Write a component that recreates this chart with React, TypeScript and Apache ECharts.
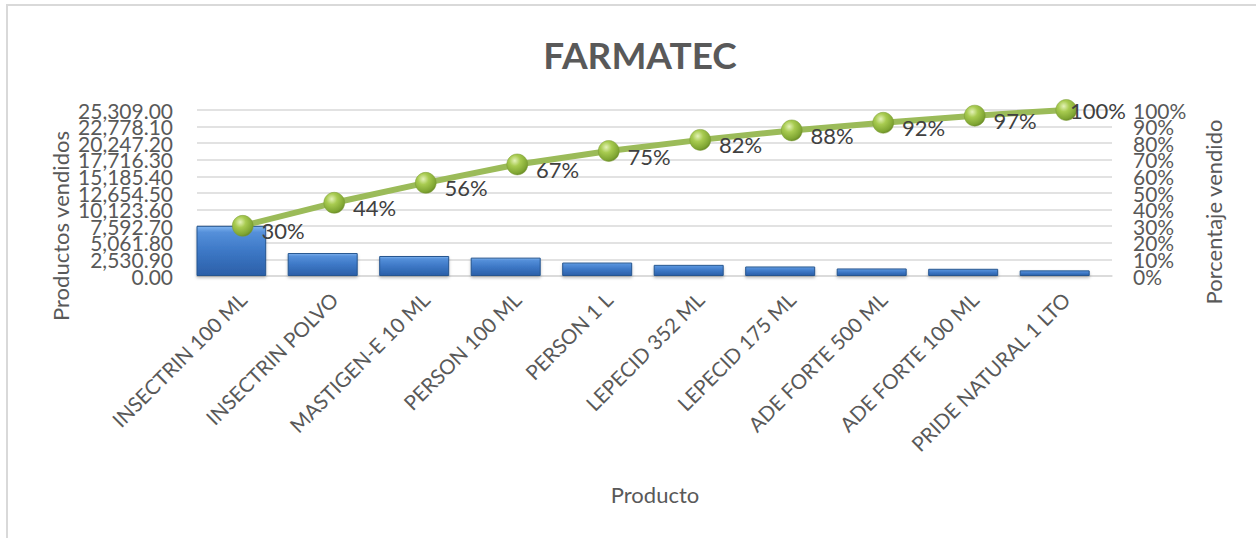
import React, { useEffect, useRef } from "react";
import * as echarts from "echarts";

const categories = [
  "INSECTRIN 100 ML",
  "INSECTRIN POLVO",
  "MASTIGEN-E 10 ML",
  "PERSON 100 ML",
  "PERSON 1 L",
  "LEPECID 352 ML",
  "LEPECID 175 ML",
  "ADE FORTE 500 ML",
  "ADE FORTE 100 ML",
  "PRIDE NATURAL 1 LTO",
];
const sold = [7650, 3500, 3050, 2800, 2050, 1700, 1450, 1150, 1100, 859];
const cumulativePct = [30.2, 44.1, 56.1, 67.2, 75.3, 82.0, 87.7, 92.3, 96.6, 100];
const leftMax = 25309;
const leftInterval = 2530.9;
const rightMax = 100;
const rightInterval = 10;

const FONT = "Lato, 'Noto Sans', sans-serif";
const GREY = "#595959";

const fmtLeft = (parity: number) => (v: number) =>
  Math.round(v / leftInterval) % 2 === parity
    ? v.toLocaleString("en-US", { minimumFractionDigits: 2, maximumFractionDigits: 2 })
    : "";
const fmtRight = (parity: number) => (v: number) =>
  Math.round(v / rightInterval) % 2 === parity ? Math.round(v) + "%" : "";

function valueAxis(position: "left" | "right", max: number, interval: number, formatter: any, grid: boolean) {
  return {
    type: "value",
    position,
    min: 0,
    max,
    interval,
    axisLine: { show: false },
    axisTick: { show: false },
    splitLine: grid ? { show: true, lineStyle: { color: "#D9D9D9", width: 1.5 } } : { show: false },
    axisLabel: {
      margin: position === "left" ? 24 : 21,
      showMinLabel: true,
      showMaxLabel: true,
      hideOverlap: false,
      fontFamily: FONT,
      fontSize: 21,
      color: GREY,
      formatter,
    },
  };
}

export default function App() {
  const ref = useRef<HTMLDivElement>(null);
  useEffect(() => {
    if (!ref.current) return;
    const chart = echarts.init(ref.current, undefined, { renderer: "svg" });
    const barColor = new echarts.graphic.LinearGradient(0, 0, 0, 1, [
      { offset: 0, color: "#82B6F0" },
      { offset: 0.12, color: "#5590DA" },
      { offset: 0.5, color: "#3D78C6" },
      { offset: 1, color: "#2B5FA8" },
    ]);
    const dotColor = new echarts.graphic.RadialGradient(0.38, 0.32, 0.75, [
      { offset: 0, color: "#E4F2B8" },
      { offset: 0.35, color: "#A8CB50" },
      { offset: 0.8, color: "#7FA532" },
      { offset: 1, color: "#5F7F22" },
    ]);
    const lineData = cumulativePct.map((v, i) =>
      i === cumulativePct.length - 1 ? { value: v, label: { offset: [-15, 0] } } : v
    );
    chart.setOption({
      animation: false,
      backgroundColor: "#ffffff",
      title: {
        text: "FARMATEC",
        left: 635,
        top: 31,
        textAlign: "center",
        textStyle: { fontFamily: FONT, fontSize: 37, fontWeight: "bold", color: GREY },
      },
      grid: { left: 197, right: 144, top: 110, bottom: 262 },
      xAxis: {
        type: "category",
        data: categories,
        axisTick: { show: false },
        axisLine: { lineStyle: { color: "#D9D9D9", width: 1.5 } },
        axisLabel: {
          rotate: 45,
          interval: 0,
          margin: 20,
          fontFamily: FONT,
          fontSize: 20.5,
          color: GREY,
        },
      },
      yAxis: [
        valueAxis("left", leftMax, leftInterval, fmtLeft(0), true),
        valueAxis("right", rightMax, rightInterval, fmtRight(0), false),
        valueAxis("left", leftMax, leftInterval, fmtLeft(1), false),
        valueAxis("right", rightMax, rightInterval, fmtRight(1), false),
      ],
      series: [
        {
          type: "bar",
          data: sold,
          barWidth: 70,
          barGap: "-67%",
          itemStyle: {
            color: barColor,
            borderColor: "#25558F",
            borderWidth: 1,
            shadowColor: "rgba(0,0,0,0.25)",
            shadowBlur: 3,
            shadowOffsetY: 2,
          },
        },
        {
          type: "bar",
          data: sold.map(() => "-"),
          barWidth: 70,
        },
        {
          type: "line",
          yAxisIndex: 1,
          data: lineData,
          symbol: "circle",
          symbolSize: 21,
          lineStyle: { color: "#9BBB59", width: 6 },
          itemStyle: { color: dotColor, borderColor: "#7A9A35", borderWidth: 0.5 },
          z: 5,
          label: {
            show: true,
            position: "right",
            distance: 8,
            offset: [0, 5],
            fontFamily: FONT,
            fontSize: 22,
            color: "#404040",
            formatter: (p: any) => Math.round(p.value) + "%",
          },
        },
      ],
      graphic: [
        {
          type: "rect",
          shape: { x: 7, y: 5, width: 1400, height: 800 },
          style: { fill: "none", stroke: "#D9D9D9", lineWidth: 2 },
          silent: true,
        },
        {
          type: "text",
          x: 60,
          y: 226,
          rotation: Math.PI / 2,
          style: {
            text: "Productos vendidos",
            fontFamily: FONT,
            fontSize: 22,
            fill: GREY,
            align: "center",
            verticalAlign: "middle",
          },
        },
        {
          type: "text",
          x: 1213,
          y: 212,
          rotation: Math.PI / 2,
          style: {
            text: "Porcentaje vendido",
            fontFamily: FONT,
            fontSize: 22,
            fill: GREY,
            align: "center",
            verticalAlign: "middle",
          },
        },
        {
          type: "text",
          x: 655,
          y: 494,
          style: {
            text: "Producto",
            fontFamily: FONT,
            fontSize: 22,
            fill: GREY,
            align: "center",
            verticalAlign: "middle",
          },
        },
      ],
    });
    return () => chart.dispose();
  }, []);
  return (
    <div
      ref={ref}
      style={{ position: "absolute", left: 0, top: 0, width: 1256, height: 538 }}
    />
  );
}
